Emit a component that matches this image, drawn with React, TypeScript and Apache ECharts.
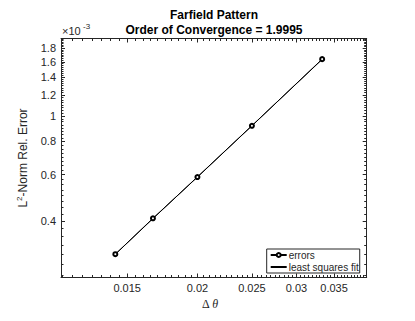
import React, { useEffect, useRef } from 'react';
import * as echarts from 'echarts';

// ---- data ----
const deltaTheta = [0.01429, 0.01667, 0.02, 0.025, 0.03333];
const errors = [0.0003, 0.00041, 0.000587, 0.000917, 0.001638];
const fitValues = [0.0003, 0.000409, 0.000588, 0.000918, 0.001634];
const seriesNames = ['errors', 'least squares fit'];
const titleLines = ['Farfield Pattern', 'Order of Convergence = 1.9995'];
const xMajorTicks = [0.015, 0.02, 0.025, 0.03, 0.035];
const xTickLabels = ['0.015', '0.02', '0.025', '0.03', '0.035'];
const yMajorTicks = [0.0004, 0.0006, 0.0008, 0.001, 0.0012, 0.0014, 0.0016, 0.0018];
const yTickLabels = ['0.4', '0.6', '0.8', '1', '1.2', '1.4', '1.6', '1.8'];
const xLimits = [0.01144, 0.04];
const yLimits = [0.000245, 0.00196];

const xMinorTicks: number[] = [];
for (let i = 23; i <= 80; i++) xMinorTicks.push(+(i * 0.0005).toFixed(6));
const yMinorTicks: number[] = [];
for (let i = 10; i <= 78; i++) yMinorTicks.push(+(i * 0.000025).toFixed(8));

const INK = '#262626';
const FONT = '"Liberation Sans", Arial, Helvetica, sans-serif';
const SERIF = '"Liberation Serif", "Times New Roman", serif';

const pick = (ticks: number[], labels: string[]) => (v: number) => {
  const i = ticks.findIndex((t) => Math.abs(t - v) / t < 1e-6);
  return i >= 0 ? labels[i] : '';
};

function makeAxis(
  limits: number[],
  position: string,
  ticks: number[],
  tickLen: number,
  showLine: boolean,
  extra: any = {}
) {
  return {
    type: 'log',
    logBase: 10,
    min: limits[0],
    max: limits[1],
    position,
    axisLine: { show: showLine, onZero: false, lineStyle: { color: INK, width: 1 } },
    axisTick: {
      show: true,
      inside: true,
      length: tickLen,
      customValues: ticks,
      lineStyle: { color: INK, width: 1 },
    },
    axisLabel: { show: false },
    splitLine: { show: false },
    minorTick: { show: false },
    minorSplitLine: { show: false },
    ...extra,
  };
}

export default function App() {
  const ref = useRef<HTMLDivElement>(null);
  useEffect(() => {
    document.body.style.margin = '0';
    if (!ref.current) return;
    const chart = echarts.init(ref.current, null, { renderer: 'svg' });
    const option: any = {
      animation: false,
      backgroundColor: '#ffffff',
      textStyle: { fontFamily: FONT },
      title: {
        text: titleLines.join('\n'),
        left: 214,
        top: 7,
        textAlign: 'center',
        padding: 0,
        textStyle: {
          fontSize: 12,
          fontWeight: 'bold',
          color: '#000',
          lineHeight: 15,
          fontFamily: FONT,
        },
      },
      grid: {
        left: 61,
        top: 38.5,
        width: 305.7,
        height: 239,
        containLabel: false,
        outerBoundsMode: 'none',
      },
      legend: {
        data: [
          { name: seriesNames[0] },
          { name: seriesNames[1], itemStyle: { opacity: 0 } },
        ],
        orient: 'vertical',
        left: 266.7,
        top: 249,
        itemWidth: 16,
        itemHeight: 5,
        itemGap: 0,
        padding: [0, 1, 0, 3],
        borderColor: INK,
        borderWidth: 1,
        backgroundColor: '#ffffff',
        textStyle: {
          fontSize: 10,
          color: INK,
          lineHeight: 12,
          fontFamily: FONT,
          padding: [0, 0, 0, -3],
        },
      },
      xAxis: [
        makeAxis(xLimits, 'bottom', xMajorTicks, 4, true, {
          axisLabel: {
            show: true,
            customValues: xMajorTicks,
            formatter: pick(xMajorTicks, xTickLabels),
            margin: 5,
            fontSize: 11,
            color: INK,
            fontFamily: FONT,
          },
          name: '{a|Δ }{i|θ}',
          nameLocation: 'middle',
          nameGap: 15,
          nameTextStyle: {
            padding: [0, 8, 0, 0],
            rich: {
              a: { fontSize: 12, color: INK, fontFamily: SERIF },
              i: { fontSize: 12, color: INK, fontStyle: 'italic', fontFamily: SERIF },
            },
          },
        }),
        makeAxis(xLimits, 'bottom', xMinorTicks, 2.5, false),
        makeAxis(xLimits, 'top', xMajorTicks, 4, true),
        makeAxis(xLimits, 'top', xMinorTicks, 2.5, false),
      ],
      yAxis: [
        makeAxis(yLimits, 'left', yMajorTicks, 4, true, {
          axisLabel: {
            show: true,
            customValues: yMajorTicks,
            formatter: pick(yMajorTicks, yTickLabels),
            margin: 5,
            fontSize: 11,
            color: INK,
            fontFamily: FONT,
          },
          name: '{a|L}{s|2}{a|-Norm Rel. Error}',
          nameLocation: 'middle',
          nameRotate: 90,
          nameGap: 31,
          nameTextStyle: {
            rich: {
              a: { fontSize: 12, color: INK, fontFamily: FONT, lineHeight: 15 },
              s: {
                fontSize: 8,
                color: INK,
                fontFamily: FONT,
                lineHeight: 8,
                verticalAlign: 'top',
              },
            },
          },
        }),
        makeAxis(yLimits, 'left', yMinorTicks, 2.5, false),
        makeAxis(yLimits, 'right', yMajorTicks, 4, true),
        makeAxis(yLimits, 'right', yMinorTicks, 2.5, false),
      ],
      graphic: [
        {
          type: 'text',
          left: 62,
          top: 25,
          style: { text: '×10', fontSize: 11, fill: INK, fontFamily: FONT },
        },
        {
          type: 'text',
          left: 83,
          top: 22,
          style: { text: '-3', fontSize: 8, fill: INK, fontFamily: FONT },
        },
      ],
      series: [
        {
          name: seriesNames[0],
          type: 'line',
          xAxisIndex: 0,
          yAxisIndex: 0,
          data: deltaTheta.map((x, i) => [x, errors[i]]),
          symbol: 'emptyCircle',
          symbolSize: 4,
          lineStyle: { color: '#000', width: 1 },
          itemStyle: { color: '#000', borderWidth: 1 },
          z: 3,
        },
        {
          name: seriesNames[1],
          type: 'line',
          xAxisIndex: 0,
          yAxisIndex: 0,
          data: deltaTheta.map((x, i) => [x, fitValues[i]]),
          symbol: 'none',
          lineStyle: { color: '#000', width: 1 },
          itemStyle: { color: '#000' },
          z: 2,
        },
      ],
    };
    chart.setOption(option);
    return () => chart.dispose();
  }, []);
  return <div ref={ref} style={{ width: 415, height: 321 }} />;
}
